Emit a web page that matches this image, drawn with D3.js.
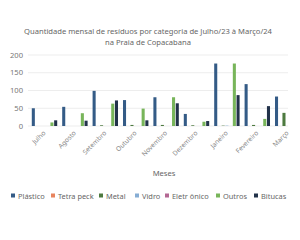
<!DOCTYPE html>
<html>
<head>
<meta charset="utf-8">
<script src="https://cdn.jsdelivr.net/npm/d3@7"></script>
<style>
  body { margin: 0; background: #fff; }
  svg { display: block; font-family: "Noto Sans", "Open Sans", sans-serif; }
</style>
</head>
<body>
<div id="chart"></div>
<script>
// data
const months = ["Julho", "Agosto", "Setembro", "Outubro", "Novembro", "Dezembro", "Janeiro", "Fevereiro", "Março"];
const series = ["Plástico", "Tetra peck", "Metal", "Vidro", "Eletr ônico", "Outros", "Bitucas"];
const colors = ["#345b86", "#e8845e", "#4d7a3f", "#86add4", "#b36893", "#78b55a", "#22324a"];

const plastico  = [50, 54, 99, 73, 81, 34, 176, 118, 83];
const tetra     = [0, 0, 0, 0, 0, 0, 0, 0, 0];
const metal     = [0, 0, 2, 3, 3, 2, 1, 3, 37];
const vidro     = [0, 0, 0, 0, 0, 0, 1, 0, 0];
const eletronico = [0, 0, 0, 0, 0, 0, 0, 0, 0];
const outros    = [10, 36, 63, 49, 81, 12, 176, 20, 0];
const bitucas   = [16, 15, 72, 16, 64, 14, 87, 56, 0];
const yTicks = [0, 50, 100, 150, 200];

const values = [plastico, tetra, metal, vidro, eletronico, outros, bitucas];

const W = 300, H = 240;
const plot = { left: 28, right: 288, top: 55, bottom: 126 };

const svg = d3.select("#chart").append("svg").attr("width", W).attr("height", H);

// title
svg.append("text").attr("x", 148).attr("y", 34).attr("text-anchor", "middle")
  .attr("font-size", 7.6).attr("fill", "#666")
  .text("Quantidade mensal de resíduos por categoria de Julho/23 à Março/24");
svg.append("text").attr("x", 148).attr("y", 45).attr("text-anchor", "middle")
  .attr("font-size", 7.6).attr("fill", "#666")
  .text("na Praia de Copacabana");

const y = d3.scaleLinear().domain([0, 200]).range([plot.bottom, plot.top]);

const x = d3.scaleBand().domain(months).range([29.3, 302.9])
  .paddingInner(0.12).paddingOuter(0.06);
const xs = d3.scaleBand().domain(series).range([0, x.bandwidth()]).padding(0.18);

// gridlines + y labels
svg.append("g").selectAll("line").data(yTicks).join("line")
  .attr("x1", plot.left).attr("x2", plot.right)
  .attr("y1", d => y(d)).attr("y2", d => y(d))
  .attr("stroke", "#ededed").attr("stroke-width", 1);

svg.append("g").selectAll("text").data(yTicks).join("text")
  .attr("x", 23).attr("y", d => y(d) + 2.7).attr("text-anchor", "end")
  .attr("font-size", 7.6).attr("fill", "#777").text(d => d);

svg.append("clipPath").attr("id", "plotclip").append("rect")
  .attr("x", plot.left).attr("y", 0).attr("width", plot.right - plot.left).attr("height", plot.bottom);

// bars
const groups = svg.append("g").attr("clip-path", "url(#plotclip)")
  .selectAll("g").data(months).join("g")
  .attr("transform", d => `translate(${x(d)},0)`);

groups.selectAll("rect")
  .data((m, i) => series.map((s, j) => ({ s, j, v: values[j][i] })))
  .join("rect")
  .attr("x", d => xs(d.s))
  .attr("width", xs.bandwidth())
  .attr("y", d => y(d.v))
  .attr("height", d => y(0) - y(d.v))
  .attr("fill", d => colors[d.j]);

// x labels
svg.append("g").selectAll("text").data(months).join("text")
  .attr("transform", d => `translate(${x(d) + x.bandwidth() / 2 + 1.5},${plot.bottom + 7.5}) rotate(-45)`)
  .attr("text-anchor", "end")
  .attr("font-size", 6.6).attr("fill", "#888").text(d => d);

svg.append("text").attr("x", 164).attr("y", 176).attr("text-anchor", "middle")
  .attr("font-size", 7.6).attr("fill", "#666").text("Meses");

// legend
const legendX = [11, 51, 99, 135, 165, 216, 254];
const legend = svg.append("g").selectAll("g").data(series).join("g")
  .attr("transform", (d, i) => `translate(${legendX[i]},196)`);
legend.append("rect").attr("x", 0).attr("y", -2.5).attr("width", 4).attr("height", 4)
  .attr("fill", (d, i) => colors[i]);
legend.append("text").attr("x", 7).attr("y", 2.5)
  .attr("font-size", 7.4).attr("fill", "#666").text(d => d);
</script>
</body>
</html>
